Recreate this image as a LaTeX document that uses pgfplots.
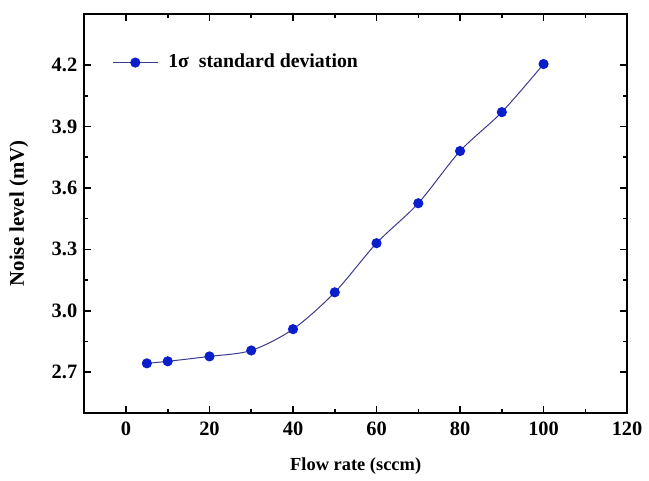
\documentclass[border=0pt]{standalone}
\usepackage{pgfplots}
\pgfplotsset{compat=1.18}
\usepackage{fontspec}
\setmainfont{Liberation Serif}
\definecolor{linenavy}{HTML}{3A3A8C}
\definecolor{markblue}{HTML}{0A1ECC}
\begin{document}
\begin{tikzpicture}
\begin{axis}[
  scale only axis,
  width=274pt, height=201.5pt,
  xmin=-10, xmax=120,
  ymin=2.5, ymax=4.45,
  xtick={0,20,...,120},
  ytick={2.7,3.0,3.3,3.6,3.9,4.2},
  minor x tick num=1,
  minor y tick num=1,
  tick align=inside,
  major tick length=3.5pt,
  minor tick length=2pt,
  axis line style={line width=0.9pt},
  every tick/.style={line width=0.8pt, black},
  /pgf/number format/assume math mode=true,
  ticklabel style={font=\fontsize{10.3}{12}\selectfont\bfseries},
  xticklabel style={yshift=-1pt},
  yticklabel style={/pgf/number format/.cd, fixed, fixed zerofill, precision=1},
  xlabel={\textbf{Flow rate (sccm)}},
  ylabel={\textbf{Noise level (mV)}},
  xlabel style={font=\fontsize{9.3}{11}\selectfont, yshift=-4pt},
  ylabel style={font=\fontsize{10.5}{12}\selectfont, yshift=5pt},
  legend style={at={(0.04,0.878)}, anchor=west, draw=none, fill=none,
    font=\fontsize{10}{12}\selectfont\bfseries,
    /tikz/every even column/.append style={column sep=2pt}},
  legend image code/.code={\draw[mark repeat=2,mark phase=2]
    plot coordinates {(0cm,0cm) (0.4cm,0cm) (0.8cm,0cm)};},
  legend cell align=left,
]
\addplot[color=linenavy, line width=0.5pt, smooth, tension=0.5,
  mark=*, mark size=2.3pt, mark options={draw=markblue, fill=markblue}] coordinates {
  (5,2.743) (10,2.753) (20,2.777) (30,2.806) (40,2.91) (50,3.09)
  (60,3.33) (70,3.525) (80,3.78) (90,3.97) (100,4.205)
};
\addlegendentry{\hspace{3pt}1σ\ \ standard deviation}
\end{axis}
\path (current axis.south west) ++(-42.5pt,-30.5pt) coordinate (bbA);
\path (current axis.north east) ++(8pt,7pt) coordinate (bbB);
\useasboundingbox (bbA) rectangle (bbB);
\end{tikzpicture}
\end{document}
